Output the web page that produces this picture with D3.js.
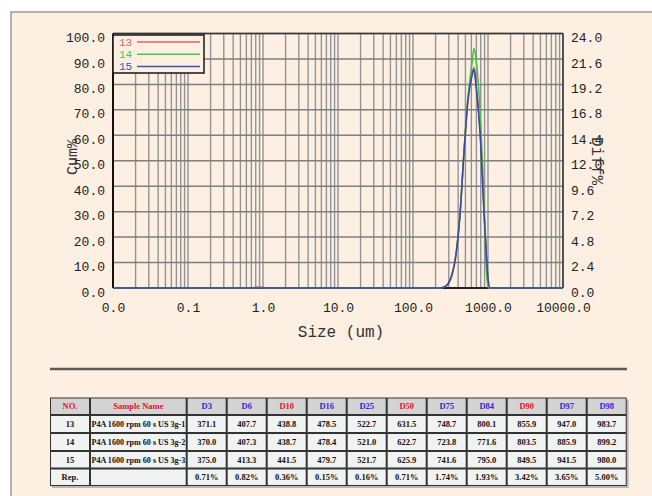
<!DOCTYPE html>
<html><head><meta charset="utf-8">
<script src="https://cdn.jsdelivr.net/npm/d3@7"></script>
<style>
html,body{margin:0;padding:0;background:#fff;}
svg{display:block;}
</style></head>
<body>
<svg id="c" width="652" height="496"></svg>
<script>
// ---------- data ----------
const sizes    = [0.01, 0.7, 0.83, 0.95, 1.1, 229, 259, 293, 331, 374, 423, 479, 541, 612, 651, 692, 782, 885, 940, 1000, 1063, 10000];
const diff13   = [0, 0, 0.08, 0.08, 0, 0, 0.09, 0.40, 1.25, 3.15, 6.95, 12.9, 17.9, 20.3, 20.8, 19.3, 14.9, 7.3, 3.9, 1.0, 0, 0];
const diff14   = [0, 0, 0, 0, 0, 0, 0.09, 0.38, 1.23, 3.11, 6.9, 12.9, 18.0, 21.2, 22.6, 21.6, 16.8, 8.0, 2.4, 0, 0, 0];
const diff15   = [0, 0, 0, 0, 0, 0, 0.09, 0.38, 1.23, 3.11, 6.88, 12.8, 17.7, 20.0, 20.6, 19.1, 14.7, 7.1, 3.8, 0.9, 0, 0];
const seriesNames = ["13", "14", "15"];
const xTicks     = [0.01, 0.1, 1, 10, 100, 1000, 10000];
const leftTicks  = [0, 10, 20, 30, 40, 50, 60, 70, 80, 90, 100];
const rightTicks = [0, 2.4, 4.8, 7.2, 9.6, 12.0, 14.4, 16.8, 19.2, 21.6, 24.0];

const tableHeaders = ["NO.", "Sample Name", "D3", "D6", "D10", "D16", "D25", "D50", "D75", "D84", "D90", "D97", "D98"];
const headerIsRed  = [true, true, false, false, true, false, false, true, false, false, true, false, false];
const rowNos       = ["13", "14", "15", "Rep."];
const rowNames     = ["P4A 1600 rpm 60 s US 3g-1", "P4A 1600 rpm 60 s US 3g-2", "P4A 1600 rpm 60 s US 3g-3", ""];
const row13 = ["371.1", "407.7", "438.8", "478.5", "522.7", "631.5", "748.7", "800.1", "855.9", "947.0", "983.7"];
const row14 = ["370.0", "407.3", "438.7", "478.4", "521.0", "622.7", "723.8", "771.6", "803.5", "885.9", "899.2"];
const row15 = ["375.0", "413.3", "441.5", "479.7", "521.7", "625.9", "741.6", "795.0", "849.5", "941.5", "980.0"];
const rowRep = ["0.71%", "0.82%", "0.36%", "0.15%", "0.16%", "0.71%", "1.74%", "1.93%", "3.42%", "3.65%", "5.00%"];

// ---------- styles ----------
const colors = {"13": "#d9505e", "14": "#45c045", "15": "#3a45a8"};
const legendColors = {"13": "#e2606c", "14": "#4cc44c", "15": "#4050b0"};
const bg = "#fdf0e3";
const mono = "'Liberation Mono', 'DejaVu Sans Mono', monospace";

const svg = d3.select("#c");
svg.append("rect").attr("x", 11).attr("y", 12).attr("width", 700).attr("height", 600)
  .attr("fill", bg).attr("stroke", "#9a9a9a").attr("stroke-width", 1.5);

const L = 113, R = 563, T = 33.5, B = 288;
const x = d3.scaleLog().domain([0.01, 10000]).range([L, R]);
const yL = d3.scaleLinear().domain([0, 100]).range([B, T]);
const yR = d3.scaleLinear().domain([0, 24]).range([B, T]);

// grid
const g = svg.append("g");
g.selectAll("line.v").data(x.ticks()).join("line")
  .attr("x1", d => x(d)).attr("x2", d => x(d)).attr("y1", T).attr("y2", B)
  .attr("stroke", "#929494").attr("stroke-width", 1.4);
g.selectAll("line.h").data(leftTicks).join("line")
  .attr("x1", L).attr("x2", R).attr("y1", d => yL(d)).attr("y2", d => yL(d))
  .attr("stroke", "#7c7e80").attr("stroke-width", 1.5);

// frame
g.append("line").attr("x1", L).attr("x2", R).attr("y1", T).attr("y2", T).attr("stroke", "#333").attr("stroke-width", 1.5);
g.append("line").attr("x1", R).attr("x2", R).attr("y1", T).attr("y2", B).attr("stroke", "#333").attr("stroke-width", 1.5);
g.append("line").attr("x1", L).attr("x2", R).attr("y1", B).attr("y2", B).attr("stroke", "#222").attr("stroke-width", 2);
g.append("line").attr("x1", L).attr("x2", L).attr("y1", T).attr("y2", B).attr("stroke", "#111").attr("stroke-width", 2);

// axes
const fmt = d3.format(".1f");
const ax = svg.append("g").attr("transform", `translate(0,${B})`)
  .call(d3.axisBottom(x).tickValues(xTicks).tickFormat(fmt).tickSize(0).tickPadding(15));
const ayl = svg.append("g").attr("transform", `translate(${L},0)`)
  .call(d3.axisLeft(yL).tickValues(leftTicks).tickFormat(fmt).tickSize(0).tickPadding(8));
const ayr = svg.append("g").attr("transform", `translate(${R},0)`)
  .call(d3.axisRight(yR).tickValues(rightTicks).tickFormat(fmt).tickSize(0).tickPadding(8));
[ax, ayl, ayr].forEach(a => {
  a.select(".domain").remove();
  a.selectAll("text").attr("font-family", mono).attr("font-size", 13).attr("fill", "#222");
});
ayl.selectAll("text").attr("dy", "0.62em");
ayr.selectAll("text").attr("dy", "0.62em");

// axis titles
svg.append("text").attr("transform", "translate(77,157) rotate(-90)")
  .attr("text-anchor", "middle").attr("font-family", mono).attr("font-size", 15).attr("fill", "#333").text("Cum%");
svg.append("text").attr("transform", "translate(592,161) rotate(90)")
  .attr("text-anchor", "middle").attr("font-family", mono).attr("font-size", 16).attr("fill", "#333").text("Diff%");
svg.append("text").attr("x", 341).attr("y", 337)
  .attr("text-anchor", "middle").attr("font-family", mono).attr("font-size", 16).attr("fill", "#333").text("Size (um)");

// curves
const seriesData = {"13": diff13, "14": diff14, "15": diff15};
const line = d3.line().x(d => x(d[0])).y(d => yR(d[1])).curve(d3.curveMonotoneX);
seriesNames.forEach(n => {
  svg.append("path").datum(sizes.map((s, i) => [s, seriesData[n][i]]))
    .attr("d", line).attr("fill", "none").attr("stroke", colors[n]).attr("stroke-width", 1.5);
});

// legend
const lg = svg.append("g");
lg.append("rect").attr("x", 113).attr("y", 35).attr("width", 91).attr("height", 38)
  .attr("fill", bg).attr("stroke", "#222").attr("stroke-width", 1.6);
seriesNames.forEach((n, i) => {
  const yy = 42 + i * 12.3;
  lg.append("text").attr("x", 119).attr("y", yy).attr("dy", "0.35em")
    .attr("font-family", mono).attr("font-size", 11).attr("fill", legendColors[n]).text(n);
  lg.append("line").attr("x1", 137).attr("x2", 200).attr("y1", yy).attr("y2", yy)
    .attr("stroke", legendColors[n]).attr("stroke-width", 1.5);
});

// divider
svg.append("line").attr("x1", 50).attr("x2", 627).attr("y1", 369).attr("y2", 369)
  .attr("stroke", "#5a5a5a").attr("stroke-width", 2.5);

// table
const colEdges = [50, 90, 186.7];
for (let i = 0; i < 11; i++) colEdges.push(186.7 + 40 * (i + 1));
const rowEdges = [397.5, 415, 433, 451, 468.5, 486];
const tg = svg.append("g");
tg.append("rect").attr("x", 52).attr("y", 399.5).attr("width", colEdges[13] - 50).attr("height", 486 - 397.5)
  .attr("fill", "#b8b8b8");
tg.append("rect").attr("x", 50).attr("y", 397.5).attr("width", colEdges[13] - 50).attr("height", 486 - 397.5)
  .attr("fill", "#333");
const bodyRows = [row13, row14, row15, rowRep];
const serif = "'Liberation Serif', 'DejaVu Serif', serif";
for (let r = 0; r < 5; r++) {
  for (let c = 0; c < 13; c++) {
    const x0 = colEdges[c], x1 = colEdges[c + 1], y0 = rowEdges[r], y1 = rowEdges[r + 1];
    tg.append("rect").attr("x", x0 + 1).attr("y", y0 + 1).attr("width", x1 - x0 - 2).attr("height", y1 - y0 - 2)
      .attr("fill", r === 0 ? "#d3d3d3" : "#f1f2f2");
    let txt, color = "#111", anchor = "middle", tx = (x0 + x1) / 2;
    if (r === 0) { txt = tableHeaders[c]; color = headerIsRed[c] ? "#e8102a" : "#2a2ad0"; }
    else if (c === 0) txt = rowNos[r - 1];
    else if (c === 1) { txt = rowNames[r - 1]; anchor = "start"; tx = x0 + 1.5; }
    else txt = bodyRows[r - 1][c - 2];
    const t = tg.append("text").attr("x", tx).attr("y", (y0 + y1) / 2).attr("dy", "0.35em")
      .attr("text-anchor", anchor).attr("font-family", serif).attr("font-weight", "bold")
      .attr("font-size", 8.5).attr("fill", color).text(txt);
    if (r > 0 && c === 1 && txt) t.attr("textLength", x1 - x0 - 3).attr("lengthAdjust", "spacingAndGlyphs");
  }
}
</script>
</body></html>
